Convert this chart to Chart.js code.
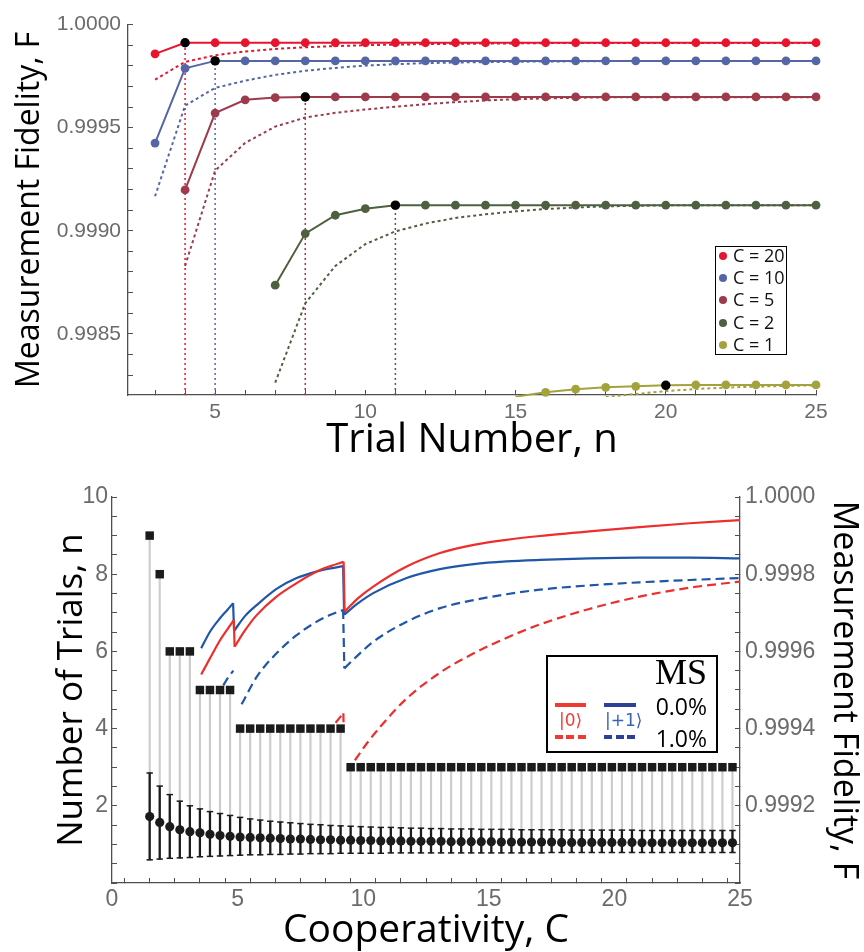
<!DOCTYPE html>
<html>
<head>
<meta charset="utf-8">
<script src="https://cdn.jsdelivr.net/npm/chart.js@4.4.1/dist/chart.umd.min.js"></script>
<style>
body { margin: 0; background: #fff; width: 864px; height: 952px; position: relative; overflow: hidden; }
#topWrap { position: absolute; left: 0; top: 0; width: 864px; height: 470px; }
#botWrap { position: absolute; left: 0; top: 460px; width: 864px; height: 492px; }
.box { position: absolute; background: #fff; box-sizing: border-box; border: 1.5px solid #000; }
.item { position: absolute; font-family: "Open Sans", sans-serif; font-size: 18px; line-height: 18px; color: #111; white-space: nowrap; }
.dot { position: absolute; width: 8px; height: 8px; border-radius: 50%; }
.seg { position: absolute; height: 4px; }
.txt { position: absolute; white-space: nowrap; line-height: 1; }
</style>
</head>
<body>
<div id="topWrap"><canvas id="topChart" width="864" height="470"></canvas></div>
<div id="botWrap"><canvas id="botChart" width="864" height="492"></canvas></div>

<div class="box" style="left:715px;top:246px;width:72px;height:109px;" id="topLegend"></div>

<div class="box" style="left:546px;top:655px;width:172px;height:98px;border-width:2px;">
  <div class="txt" style="right:9px;top:-3px;font-family:'Liberation Serif',serif;font-size:36px;">MS</div>
  <div class="seg" style="left:7px;top:46px;width:31px;background:#ee3b33;"></div>
  <div class="txt" style="left:11px;top:55px;font-family:'DejaVu Sans',sans-serif;font-size:17px;color:#ee3b33;">|0⟩</div>
  <div class="seg" style="left:7px;top:78px;width:31px;background:repeating-linear-gradient(90deg,#ee3b33 0 8px,transparent 8px 11.5px);"></div>
  <div class="seg" style="left:56px;top:46px;width:32px;background:#2e3f97;"></div>
  <div class="txt" style="left:57px;top:55px;font-family:'DejaVu Sans',sans-serif;font-size:17px;color:#3a62b5;">|+1⟩</div>
  <div class="seg" style="left:56px;top:78px;width:32px;background:repeating-linear-gradient(90deg,#2e3f97 0 8px,transparent 8px 11.5px);"></div>
  <div class="txt" style="right:9px;top:38px;font-family:'Open Sans',sans-serif;font-size:23px;">0.0%</div>
  <div class="txt" style="right:9px;top:70px;font-family:'Open Sans',sans-serif;font-size:23px;">1.0%</div>
</div>

<script>
// ---------- top panel: fidelity vs trial number ----------
const trialN = [3, 4, 5, 6, 7, 8, 9, 10, 11, 12, 13, 14, 15, 16, 17, 18, 19, 20, 21, 22, 23, 24, 25];

const c20Solid = [0.999858, 0.999912, 0.999912, 0.999912, 0.999912, 0.999912, 0.999912, 0.999912, 0.999912, 0.999912, 0.999912, 0.999912,
  0.999912, 0.999912, 0.999912, 0.999912, 0.999912, 0.999912, 0.999912, 0.999912, 0.999912, 0.999912, 0.999912];
const c20Dotted = [0.999733, 0.999819, 0.999851, 0.999870, 0.999882, 0.999890, 0.999896, 0.999900, 0.999903, 0.999905, 0.999907, 0.999908,
  0.999909, 0.999910, 0.999911, 0.999911, 0.999911, 0.999911, 0.999911, 0.999911, 0.999911, 0.999911, 0.999911];

const c10Solid = [0.999425, 0.999788, 0.999824, 0.999824, 0.999824, 0.999824, 0.999824, 0.999824, 0.999824, 0.999824, 0.999824, 0.999824,
  0.999824, 0.999824, 0.999824, 0.999824, 0.999824, 0.999824, 0.999824, 0.999824, 0.999824, 0.999824, 0.999824];
const c10Dotted = [0.999167, 0.999607, 0.999693, 0.999728, 0.999756, 0.999776, 0.999790, 0.999801, 0.999808, 0.999813, 0.999816, 0.999818,
  0.999820, 0.999821, 0.999822, 0.999823, 0.999823, 0.999823, 0.999823, 0.999823, 0.999823, 0.999823, 0.999823];

const c5Solid = [null, 0.999198, 0.999571, 0.999635, 0.999646, 0.999649, 0.999649, 0.999649, 0.999649, 0.999649, 0.999649, 0.999649,
  0.999649, 0.999649, 0.999649, 0.999649, 0.999649, 0.999649, 0.999649, 0.999649, 0.999649, 0.999649, 0.999649];
const c5Dotted = [null, 0.998829, 0.999292, 0.999426, 0.999505, 0.999549, 0.999572, 0.999588, 0.999602, 0.999614, 0.999624, 0.999632,
  0.999638, 0.999642, 0.999645, 0.999647, 0.999648, 0.999648, 0.999648, 0.999648, 0.999648, 0.999648, 0.999648];

const c2Solid = [null, null, null, null, 0.998736, 0.998986, 0.999075, 0.999107, 0.999123, 0.999124, 0.999124, 0.999124,
  0.999124, 0.999124, 0.999124, 0.999124, 0.999124, 0.999124, 0.999124, 0.999124, 0.999124, 0.999124, 0.999124];
const c2Dotted = [null, null, null, null, 0.998263, 0.998648, 0.998829, 0.998935, 0.998997, 0.999035, 0.999062, 0.999080,
  0.999094, 0.999105, 0.999113, 0.999118, 0.999121, 0.999123, 0.999123, 0.999123, 0.999123, 0.999123, 0.999123];

const c1Solid = [null, null, null, null, null, null, null, null, null, null, null, null,
  0.998195, 0.998216, 0.998231, 0.998240, 0.998245, 0.998250, 0.998252, 0.998252, 0.998252, 0.998252, 0.998252];
const c1Dotted = [null, null, null, null, null, null, null, null, null, null, null, null,
  null, null, null, 0.998193, 0.998208, 0.998222, 0.998232, 0.998239, 0.998244, 0.998247, 0.998250];

const optN = [4, 5, 8, 11, 20];
const optF = [0.999912, 0.999824, 0.999649, 0.999124, 0.998250];

const topLabels = ['C = 20', 'C = 10', 'C = 5', 'C = 2', 'C = 1'];
const topColors = ['#e8132d', '#5466a6', '#9d3b4b', '#4f6040', '#a4a23c'];
const topXLabels = [5, 10, 15, 20, 25];
const topYLabels = [0.9985, 0.9990, 0.9995, 1.0000];
const topXMin = 2.1, topXMax = 25, topYMin = 0.998203, topYMax = 1.0;

// ---------- bottom panel: trials and fidelity vs cooperativity ----------
const coopC = [1.5, 1.9, 2.3, 2.7, 3.1, 3.5, 3.9, 4.3, 4.7, 5.1, 5.5, 5.9, 6.3, 6.7, 7.1, 7.5, 7.9, 8.3, 8.7, 9.1, 9.5, 9.9,
  10.3, 10.7, 11.1, 11.5, 11.9, 12.3, 12.7, 13.1, 13.5, 13.9, 14.3, 14.7, 15.1, 15.5, 15.9, 16.3, 16.7, 17.1, 17.5, 17.9,
  18.3, 18.7, 19.1, 19.5, 19.9, 20.3, 20.7, 21.1, 21.5, 21.9, 22.3, 22.7, 23.1, 23.5, 23.9, 24.3, 24.7];
const trialsNeeded = [9, 8, 6, 6, 6, 5, 5, 5, 5, 4, 4, 4, 4, 4, 4, 4, 4, 4, 4, 4, 3, 3,
  3, 3, 3, 3, 3, 3, 3, 3, 3, 3, 3, 3, 3, 3, 3, 3, 3, 3, 3, 3,
  3, 3, 3, 3, 3, 3, 3, 3, 3, 3, 3, 3, 3, 3, 3, 3, 3];
const trialsMean = [1.72, 1.57, 1.46, 1.38, 1.33, 1.30, 1.26, 1.23, 1.21, 1.19, 1.18, 1.17, 1.16, 1.15, 1.14, 1.14, 1.13, 1.12, 1.12, 1.11, 1.11, 1.10,
  1.10, 1.09, 1.09, 1.09, 1.08, 1.08, 1.08, 1.08, 1.07, 1.07, 1.07, 1.07, 1.07, 1.06, 1.06, 1.06, 1.06, 1.06, 1.06, 1.05,
  1.05, 1.05, 1.05, 1.05, 1.05, 1.05, 1.05, 1.04, 1.04, 1.04, 1.04, 1.04, 1.04, 1.04, 1.04, 1.04, 1.04];
const trialsUpper = [2.85, 2.51, 2.29, 2.12, 2.00, 1.92, 1.85, 1.80, 1.75, 1.70, 1.66, 1.63, 1.60, 1.58, 1.56, 1.54, 1.52, 1.51, 1.49, 1.48, 1.47, 1.46,
  1.45, 1.44, 1.44, 1.43, 1.42, 1.42, 1.41, 1.41, 1.40, 1.40, 1.40, 1.39, 1.39, 1.39, 1.39, 1.38, 1.38, 1.38, 1.38, 1.38,
  1.37, 1.37, 1.37, 1.37, 1.37, 1.37, 1.37, 1.36, 1.36, 1.36, 1.36, 1.36, 1.36, 1.36, 1.36, 1.36, 1.36];
const trialsLower = [0.60, 0.62, 0.64, 0.65, 0.66, 0.68, 0.69, 0.70, 0.71, 0.72, 0.73, 0.73, 0.74, 0.74, 0.75, 0.75, 0.76, 0.76, 0.76, 0.77, 0.77, 0.77,
  0.77, 0.77, 0.78, 0.78, 0.78, 0.78, 0.78, 0.78, 0.78, 0.78, 0.78, 0.78, 0.78, 0.78, 0.78, 0.78, 0.78, 0.78, 0.79, 0.79,
  0.79, 0.79, 0.79, 0.79, 0.79, 0.79, 0.79, 0.79, 0.79, 0.79, 0.79, 0.79, 0.79, 0.79, 0.79, 0.79, 0.79];

// fidelity curves, [C, F] pieces; jumps where the trial number changes
const ket0Ms0 = [
  [[3.55, 0.999540], [3.9, 0.999582], [4.3, 0.999629], [4.6, 0.999658], [4.85, 0.999681]],
  [[4.88, 0.999612], [5.3, 0.999655], [5.76, 0.999694], [6.55, 0.999742], [7.35, 0.999777], [8.15, 0.999807], [8.7, 0.999821], [9.22, 0.999832]],
  [[9.26, 0.999703], [9.8, 0.999738], [10.4, 0.999768], [11.73, 0.999820], [13.06, 0.999855], [14.4, 0.999876], [15.7, 0.999889],
   [17.04, 0.999899], [19, 0.999911], [21, 0.999922], [23, 0.999932], [25, 0.999940]]
];
const ketP1Ms0 = [
  [[3.55, 0.999608], [3.9, 0.999651], [4.3, 0.999686], [4.6, 0.999708], [4.82, 0.999725]],
  [[4.86, 0.999653], [5.3, 0.999692], [5.76, 0.999720], [6.55, 0.999762], [7.35, 0.999790], [8.15, 0.999807], [8.7, 0.999815], [9.2, 0.999821]],
  [[9.24, 0.999695], [9.8, 0.999725], [10.4, 0.999751], [11.73, 0.999790], [13.06, 0.999813], [14.4, 0.999826], [15.7, 0.999833],
   [17.04, 0.999837], [19, 0.999841], [21, 0.999843], [23, 0.999843], [25, 0.999841]]
];
const ketP1Ms1 = [
  [[4.43, 0.999512], [4.63, 0.999533], [4.83, 0.999550]],
  [[5.16, 0.999463], [5.76, 0.999534], [6.55, 0.999595], [7.35, 0.999642], [8.15, 0.999677], [8.7, 0.999695], [9.2, 0.999707]],
  [[9.25, 0.999556], [9.87, 0.999595], [10.4, 0.999625], [11.73, 0.999677], [13.06, 0.999712], [14.4, 0.999733], [15.7, 0.999748],
   [17.04, 0.999760], [19, 0.999771], [21, 0.999779], [23, 0.999785], [25, 0.999790]]
];
const ket0Ms1 = [
  [[8.9, 0.999415], [9.05, 0.999427], [9.21, 0.999440]],
  [[9.22, 0.999412]],
  [[9.67, 0.999318], [10.15, 0.999362], [10.67, 0.999404], [11.73, 0.999478], [13.06, 0.999545], [14.4, 0.999595], [15.7, 0.999635],
   [17.04, 0.999670], [19, 0.999710], [21, 0.999742], [23, 0.999765], [25, 0.999781]]
];
const ket0Ms0Joins = [true, true];
const ketP1Ms0Joins = [true, true];
const ketP1Ms1Joins = [false, true];
const ket0Ms1Joins = [true, false];

const botXLabels = [0, 5, 10, 15, 20, 25];
const botYLLabels = [2, 4, 6, 8, 10];
const botYRLabels = [0.9992, 0.9994, 0.9996, 0.9998, 1.0000];

const RED = '#ec2e2c', BLUE = '#1f56a8', INK = '#1b1b1b';
const TICK_FONT = '"Liberation Sans", Arial, sans-serif';
const TITLE_FONT = '"Open Sans", sans-serif';

// top legend (html)
const lg = document.getElementById('topLegend');
topLabels.forEach(function (t, i) {
  const y = 9.2 + 22.1 * i;
  lg.insertAdjacentHTML('beforeend',
    '<div class="dot" style="left:2.5px;top:' + (y - 4) + 'px;background:' + topColors[i] + '"></div>' +
    '<div class="item" style="left:17px;top:' + (y - 10) + 'px">' + t + '</div>');
});

function near(v, list) { return list.some(function (m) { return Math.abs(v - m) < 1e-9; }); }
function stepTicks(a, b, step, dec) {
  const out = [];
  for (let v = a; v <= b + step / 2; v += step) out.push({ value: Number(v.toFixed(dec)) });
  return out;
}
function pts(xs, ys) {
  const out = [];
  xs.forEach(function (x, i) { if (ys[i] !== null) out.push({ x: x, y: ys[i] }); });
  return out;
}
function axis(size, pad) {
  return {
    border: { display: true, color: '#505050', width: 1.3 },
    grid: { drawOnChartArea: false, drawTicks: true, tickLength: -5, tickColor: '#505050', tickWidth: 1 },
    ticks: { color: '#6b6b6b', font: { family: TICK_FONT, size: size }, autoSkip: false, maxRotation: 0, padding: pad }
  };
}
function title(text, size, pad) {
  return { display: true, text: text, color: '#000', font: { family: TITLE_FONT, size: size, lineHeight: 1.2 }, padding: pad };
}

// ---------- top chart ----------
const topSets = [];
topSets.push({
  data: pts(optN, optF), showLine: false, pointRadius: 4.7, pointBackgroundColor: '#000', pointBorderWidth: 0, order: 0, clip: 6
});
const topSolid = [c20Solid, c10Solid, c5Solid, c2Solid, c1Solid];
const topDotted = [c20Dotted, c10Dotted, c5Dotted, c2Dotted, c1Dotted];
topSolid.forEach(function (arr, i) {
  topSets.push({
    data: pts(trialN, arr), borderColor: topColors[i], borderWidth: 2, tension: 0,
    pointRadius: function (ctx) { return ctx.raw && ctx.raw.y < topYMin ? 0 : 4.4; },
    pointBackgroundColor: topColors[i], pointBorderWidth: 0, order: 1,
    clip: i === 4 ? { left: 6, top: 6, right: 6, bottom: 2 } : 6
  });
});
topDotted.forEach(function (arr, i) {
  topSets.push({
    data: pts(trialN, arr), borderColor: topColors[i], borderWidth: 2, borderDash: [3, 3], tension: 0,
    pointRadius: 0, order: 2, clip: { left: 0, top: 0, right: 2, bottom: 2 }
  });
});
for (let i = 0; i < 4; i++) {
  topSets.push({
    data: [{ x: optN[i], y: topYMin }, { x: optN[i], y: optF[i] }], borderColor: topColors[i], borderWidth: 1.5,
    borderDash: [2, 3], pointRadius: 0, order: 3
  });
}

const topX = axis(21, 10);
topX.type = 'linear'; topX.min = topXMin; topX.max = topXMax; topX.offset = false;
topX.title = title('Trial Number, n', 40, { top: 0, bottom: 5 });
topX.afterFit = function (s) { s.height = 75; };
topX.afterBuildTicks = function (s) { s.ticks = stepTicks(3, 25, 1, 0); };
topX.ticks.callback = function (v) { return near(v, topXLabels) ? String(v) : ''; };

const topY = axis(21, 12);
topY.min = topYMin; topY.max = topYMax;
topY.title = title('Measurement Fidelity, F', 32, { top: 11, bottom: 0 });
topY.afterFit = function (s) { s.width = 128; };
topY.afterBuildTicks = function (s) { s.ticks = stepTicks(0.9983, 1.0, 0.0001, 4); };
topY.ticks.callback = function (v) { return near(v, topYLabels) ? v.toFixed(4) : ''; };

new Chart(document.getElementById('topChart'), {
  type: 'line',
  data: { datasets: topSets },
  options: {
    responsive: false, animation: false,
    layout: { padding: { top: 15, right: 48, left: 0, bottom: 0 } },
    plugins: { legend: { display: false }, tooltip: { enabled: false } },
    scales: { x: topX, y: topY }
  }
});

// ---------- bottom chart ----------
const botSets = [];
botSets.push({
  data: pts(coopC, trialsNeeded), yAxisID: 'yL', showLine: false, pointStyle: 'rect', pointRadius: 6,
  pointBackgroundColor: INK, pointBorderWidth: 0, order: 0
});
botSets.push({
  data: pts(coopC, trialsMean), yAxisID: 'yL', showLine: false, pointRadius: 4.6,
  pointBackgroundColor: INK, pointBorderWidth: 0, order: 1
});
[trialsUpper, trialsLower].forEach(function (arr) {
  botSets.push({
    data: pts(coopC, arr), yAxisID: 'yL', showLine: false, pointStyle: 'line', pointRadius: 3.2,
    pointBorderColor: INK, pointBorderWidth: 1.5, order: 2
  });
});
botSets.push({
  type: 'bar', yAxisID: 'yL', grouped: false, barThickness: 1.6, backgroundColor: INK, order: 2,
  data: coopC.map(function (c, i) { return { x: c, y: [trialsLower[i], trialsUpper[i]] }; })
});
botSets.push({
  type: 'bar', yAxisID: 'yL', grouped: false, barThickness: 1.5, backgroundColor: '#cccccc', order: 6,
  data: coopC.map(function (c, i) { return { x: c, y: [trialsLower[i], trialsNeeded[i]] }; })
});

function curveSets(segs, joins, color, dash) {
  segs.forEach(function (s, i) {
    botSets.push({
      data: s.map(function (p) { return { x: p[0], y: p[1] }; }), yAxisID: 'yR', borderColor: color, borderWidth: 2.2,
      borderDash: dash, pointRadius: 0, cubicInterpolationMode: 'monotone', order: 3
    });
    if (i < joins.length && joins[i]) {
      const a = s[s.length - 1], b = segs[i + 1][0];
      botSets.push({
        data: [{ x: a[0], y: a[1] }, { x: b[0], y: b[1] }], yAxisID: 'yR', borderColor: color, borderWidth: 2.2,
        borderDash: dash, pointRadius: 0, tension: 0, order: 3
      });
    }
  });
}
curveSets(ket0Ms0, ket0Ms0Joins, RED, []);
curveSets(ketP1Ms0, ketP1Ms0Joins, BLUE, []);
curveSets(ketP1Ms1, ketP1Ms1Joins, BLUE, [9, 5]);
curveSets(ket0Ms1, ket0Ms1Joins, RED, [9, 5]);

const botX = axis(23, 8);
botX.type = 'linear'; botX.min = 0; botX.max = 25; botX.offset = false;
botX.title = title('Cooperativity, C', 39, { top: 0, bottom: -2 });
botX.afterFit = function (s) { s.height = 69; };
botX.afterBuildTicks = function (s) { s.ticks = stepTicks(0, 25, 1, 0); };
botX.ticks.callback = function (v) { return near(v, botXLabels) ? String(v) : ''; };

const botYL = axis(23, 9);
botYL.position = 'left'; botYL.min = 0; botYL.max = 10;
botYL.title = title('Number of Trials, n', 35, { top: 51, bottom: 0 });
botYL.afterFit = function (s) { s.width = 112; };
botYL.afterBuildTicks = function (s) { s.ticks = stepTicks(0, 10, 0.5, 1); };
botYL.ticks.callback = function (v) { return near(v, botYLLabels) ? String(v) : ''; };

const botYR = axis(23, 10);
botYR.position = 'right'; botYR.min = 0.999; botYR.max = 1.0;
botYR.title = title('Measurement Fidelity, F', 34, { top: 0, bottom: 0 });
botYR.afterFit = function (s) { s.width = 124; };
botYR.afterBuildTicks = function (s) { s.ticks = stepTicks(0.999, 1.0, 0.00005, 5); };
botYR.ticks.callback = function (v) { return near(v, botYRLabels) ? v.toFixed(4) : ''; };

new Chart(document.getElementById('botChart'), {
  type: 'line',
  data: { datasets: botSets },
  options: {
    responsive: false, animation: false,
    layout: { padding: { top: 37, right: 0, left: 0, bottom: 0 } },
    plugins: { legend: { display: false }, tooltip: { enabled: false } },
    scales: { x: botX, yL: botYL, yR: botYR }
  }
});
</script>
</body>
</html>
